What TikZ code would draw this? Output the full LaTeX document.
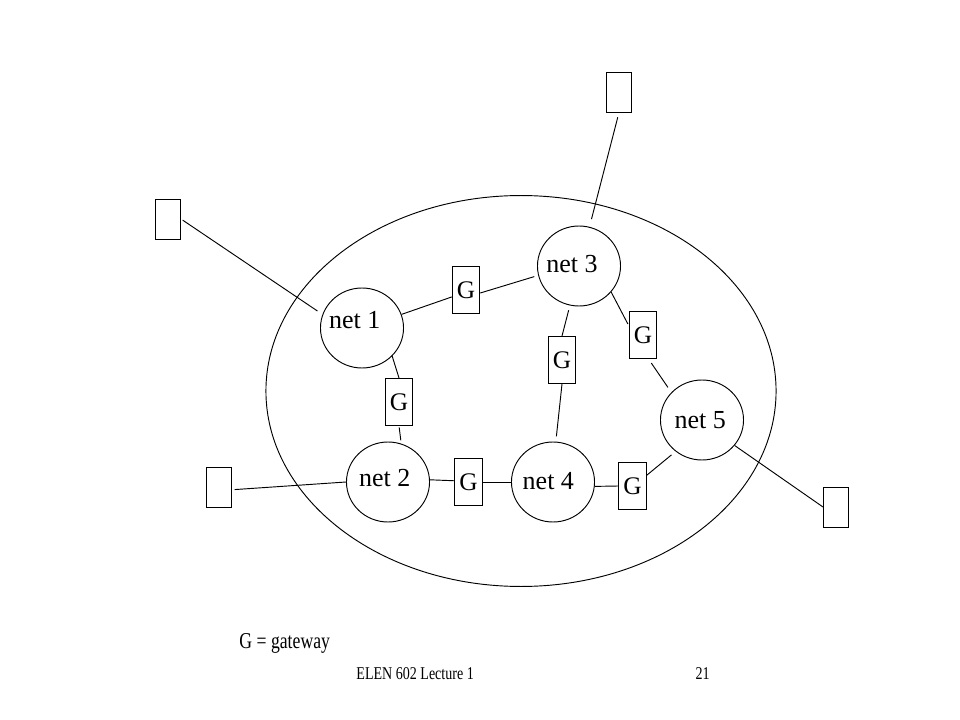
\documentclass[tikz,border=0pt]{standalone}
\usepackage{fontspec}
\setmainfont{Liberation Serif}
\newfontfamily\slidefoot[FakeStretch=0.78]{Liberation Serif}
\usetikzlibrary{shapes.geometric}

\begin{document}
\begin{tikzpicture}[x=0.75pt,y=-0.75pt,line width=0.7pt,
  net/.style={ellipse,draw,minimum width=62.3pt,minimum height=60pt,inner sep=0pt},
  netlbl/.style={font=\fontsize{19.5}{22}\selectfont},
  gw/.style={rectangle,draw,minimum width=20.6pt,minimum height=35.3pt,inner sep=0pt,font=\fontsize{19}{22}\selectfont},
  host/.style={rectangle,draw,minimum width=18.8pt,minimum height=30pt,inner sep=0pt}]
\useasboundingbox (0,0) rectangle (960,720);
% the internet
\draw (521,391) ellipse [x radius=191.3pt,y radius=146.6pt];
% networks
\node[net,label={[netlbl,xshift=-5.5pt,yshift=6pt]center:net 1}] (net1) at (362,328) {};
\node[net,label={[netlbl,xshift=-5.3pt,yshift=1.2pt]center:net 3}] (net3) at (579,266) {};
\node[net,label={[netlbl,xshift=-2.5pt,yshift=2.8pt]center:net 2}] (net2) at (388,482) {};
\node[net,label={[netlbl,xshift=-3.5pt,yshift=0.8pt]center:net 4}] (net4) at (553,482) {};
\node[net,label={[netlbl,xshift=-1.3pt]center:net 5}] (net5) at (702,420) {};
% gateways
\node[gw] (g13) at (466,290) {G};
\node[gw] (g35) at (643,335) {G};
\node[gw] (g34) at (562,360) {G};
\node[gw] (g12) at (399,402) {G};
\node[gw] (g24) at (468.5,482) {G};
\node[gw] (g45) at (632.5,486) {G};
% hosts
\node[host] (h1) at (168,219) {};
\node[host] (h3) at (619,92) {};
\node[host] (h2) at (219,487) {};
\node[host] (h5) at (836,507) {};
% links
\draw[shorten <=1.5pt,shorten >=4.5pt] (h1.east) -- (net1.161);
\draw (net1.19) -- (g13.206);
\draw[shorten >=3pt] (g13.348) -- (net3.193);
\draw[shorten <=3.7pt,shorten >=6pt] (h3.south) -- (net3.75);
\draw[shorten <=3.7pt] (net3.257) -- (g34.north);
\draw[shorten >=4pt] (g34.south) -- (net4.86);
\draw[shorten >=1.5pt] (net3.321) -- (g35.147);
\draw[shorten <=3.7pt,shorten >=4.5pt] (g35.283) -- (net5.138);
\draw (net1.317) -- (g12.north);
\draw[shorten <=1pt,shorten >=2.5pt] (g12.south) -- (net2.71);
\draw[shorten <=2pt] (h2.-12) -- (net2.west);
\draw (net2.3) -- (g24.175);
\draw (g24.east) -- (net4.west);
\draw (net4.-6) -- (g45.west);
\draw[shorten >=4pt] (g45.37) -- (net5.230);
\draw (net5.-38) -- (h5.west);
% legend and footer
\node[font=\slidefoot\fontsize{17}{20}\selectfont,anchor=base west,inner sep=0pt] (legend) at (239,648) {G = gateway};
\node[font=\slidefoot\fontsize{13.5}{16}\selectfont,anchor=base west,inner sep=0pt] (footer) at (356,679.3) {ELEN 602 Lecture 1};
\node[font=\slidefoot\fontsize{13.5}{16}\selectfont,anchor=base east,inner sep=0pt] (page) at (710,679.3) {21};
\end{tikzpicture}
\end{document}
